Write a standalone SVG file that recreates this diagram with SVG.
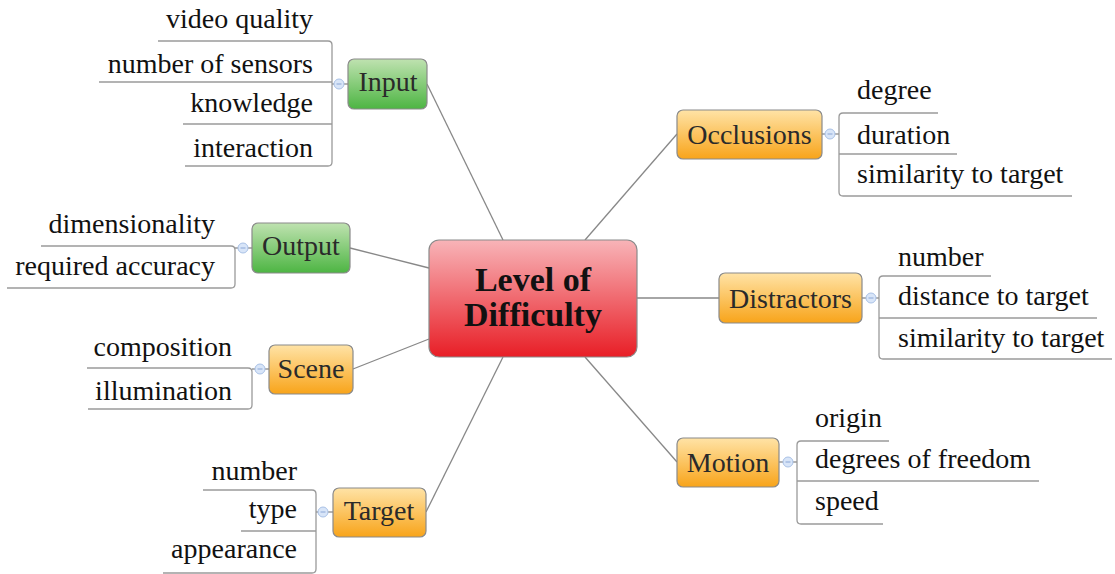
<svg xmlns="http://www.w3.org/2000/svg" width="1115" height="574" viewBox="0 0 1115 574" font-family="Liberation Serif">
<defs>
<linearGradient id="gGreen" x1="0" y1="0" x2="0" y2="1"><stop offset="0" stop-color="#bfe2b0"/><stop offset="1" stop-color="#4db543"/></linearGradient>
<linearGradient id="gOrange" x1="0" y1="0" x2="0" y2="1"><stop offset="0" stop-color="#ffe3a6"/><stop offset="1" stop-color="#f8a41a"/></linearGradient>
<linearGradient id="gRed" x1="0" y1="0" x2="0" y2="1"><stop offset="0" stop-color="#f8b4b8"/><stop offset="1" stop-color="#e81e26"/></linearGradient>
</defs>
<style>
.node{stroke:#8a8a8a;stroke-width:1.2}
.main{font-size:28px;fill:#2a2a2a;text-anchor:middle}
.sub{font-size:28px;fill:#111}
.end{text-anchor:end}
.br{fill:none;stroke:#9a9a9a;stroke-width:1.3}
.conn{fill:none;stroke:#888;stroke-width:1.3}
.tog{fill:#d8e5f8;stroke:#a9c1e6;stroke-width:1}
.minus{stroke:#8aa6d6;stroke-width:1}
.center{font-size:34px;font-weight:bold;fill:#111;text-anchor:middle}
</style>
<rect width="1115" height="574" fill="#fff"/>
<g id="connectors">
<line class="conn" x1="427" y1="84" x2="503" y2="240"/>
<line class="conn" x1="350" y1="248" x2="429" y2="268"/>
<line class="conn" x1="353" y1="369" x2="429" y2="339"/>
<line class="conn" x1="426" y1="512" x2="503" y2="357"/>
<line class="conn" x1="677" y1="134" x2="585" y2="240"/>
<line class="conn" x1="719" y1="298" x2="637" y2="298"/>
<line class="conn" x1="677" y1="462" x2="585" y2="357"/>
</g>
<g id="center">
<rect x="429" y="240" width="208" height="117" rx="10" fill="url(#gRed)" class="node"/>
<text class="center" x="533" y="291">Level of</text>
<text class="center" x="533" y="326">Difficulty</text>
</g>
<g id="input">
<path class="br" d="M158,41 H328 Q332,41 332,45 V162 Q332,166 328,166 H185 M99,82 H332 M183,124 H332 M332,84 H348"/>
<circle class="tog" cx="339" cy="84" r="5"/><line class="minus" x1="336.5" y1="84" x2="341.5" y2="84"/>
<rect x="348" y="59" width="79" height="50" rx="6" fill="url(#gGreen)" class="node"/>
<text class="main" x="388" y="91">Input</text>
<text class="sub end" x="313" y="28">video quality</text>
<text class="sub end" x="313" y="73">number of sensors</text>
<text class="sub end" x="313" y="112">knowledge</text>
<text class="sub end" x="313" y="157">interaction</text>
</g>
<g id="output">
<path class="br" d="M41,246 H231 Q235,246 235,250 V284 Q235,288 231,288 H7 M235,248 H252"/>
<circle class="tog" cx="243" cy="248" r="5"/><line class="minus" x1="240.5" y1="248" x2="245.5" y2="248"/>
<rect x="252" y="223" width="98" height="50" rx="6" fill="url(#gGreen)" class="node"/>
<text class="main" x="301" y="255">Output</text>
<text class="sub end" x="215" y="233">dimensionality</text>
<text class="sub end" x="215" y="275">required accuracy</text>
</g>
<g id="scene">
<path class="br" d="M87,368 H248 Q252,368 252,372 V405 Q252,409 248,409 H88 M252,369 H269"/>
<circle class="tog" cx="260" cy="369" r="5"/><line class="minus" x1="257.5" y1="369" x2="262.5" y2="369"/>
<rect x="269" y="345" width="84" height="49" rx="6" fill="url(#gOrange)" class="node"/>
<text class="main" x="311" y="378">Scene</text>
<text class="sub end" x="232" y="356">composition</text>
<text class="sub end" x="232" y="400">illumination</text>
</g>
<g id="target">
<path class="br" d="M203,490 H312 Q316,490 316,494 V569 Q316,573 312,573 H163 M241,531 H316 M316,512 H333"/>
<circle class="tog" cx="323" cy="512" r="5"/><line class="minus" x1="320.5" y1="512" x2="325.5" y2="512"/>
<rect x="333" y="488" width="93" height="49" rx="6" fill="url(#gOrange)" class="node"/>
<text class="main" x="379" y="520">Target</text>
<text class="sub end" x="297" y="480">number</text>
<text class="sub end" x="297" y="518">type</text>
<text class="sub end" x="297" y="558">appearance</text>
</g>
<g id="occlusions">
<path class="br" d="M938,113 H843 Q839,113 839,117 V192 Q839,196 843,196 H1072 M839,154 H957 M839,134 H822"/>
<circle class="tog" cx="830" cy="134" r="5"/><line class="minus" x1="827.5" y1="134" x2="832.5" y2="134"/>
<rect x="677" y="110" width="145" height="49" rx="6" fill="url(#gOrange)" class="node"/>
<text class="main" x="749.5" y="144">Occlusions</text>
<text class="sub" x="857" y="99">degree</text>
<text class="sub" x="857" y="144">duration</text>
<text class="sub" x="857" y="183">similarity to target</text>
</g>
<g id="distractors">
<path class="br" d="M991,276 H883 Q879,276 879,280 V355 Q879,359 883,359 H1112 M879,318 H1097 M879,298 H862"/>
<circle class="tog" cx="871" cy="298" r="5"/><line class="minus" x1="868.5" y1="298" x2="873.5" y2="298"/>
<rect x="719" y="273" width="143" height="50" rx="6" fill="url(#gOrange)" class="node"/>
<text class="main" x="790.5" y="308">Distractors</text>
<text class="sub" x="898" y="266">number</text>
<text class="sub" x="898" y="305">distance to target</text>
<text class="sub" x="898" y="347">similarity to target</text>
</g>
<g id="motion">
<path class="br" d="M889,441 H801 Q797,441 797,445 V520 Q797,524 801,524 H883 M797,481 H1039 M797,462 H779"/>
<circle class="tog" cx="788" cy="462" r="5"/><line class="minus" x1="785.5" y1="462" x2="790.5" y2="462"/>
<rect x="677" y="438" width="102" height="49" rx="6" fill="url(#gOrange)" class="node"/>
<text class="main" x="728" y="472">Motion</text>
<text class="sub" x="815" y="427">origin</text>
<text class="sub" x="815" y="468">degrees of freedom</text>
<text class="sub" x="815" y="510">speed</text>
</g>
</svg>
